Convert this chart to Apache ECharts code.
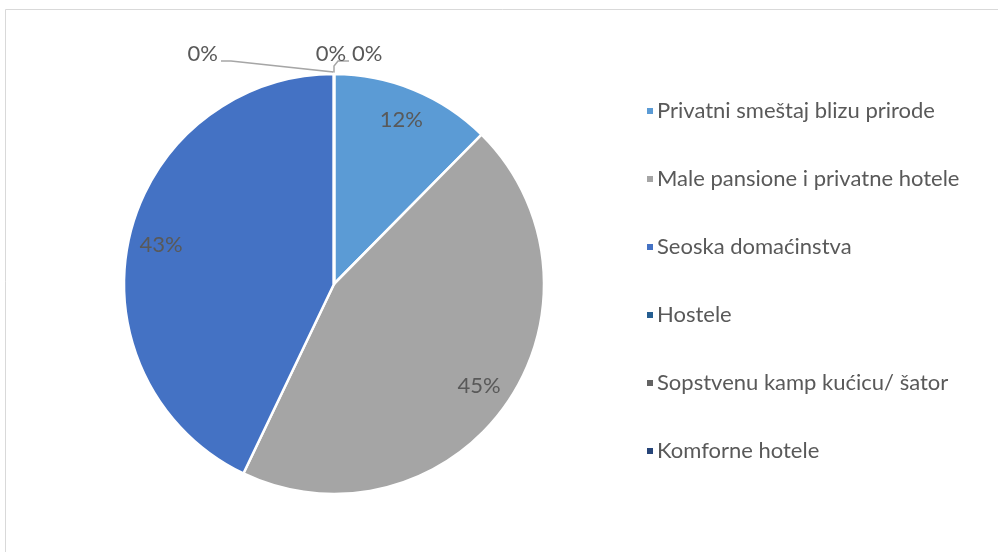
<!DOCTYPE html>
<html>
<head>
<meta charset="utf-8">
<script src="https://cdn.jsdelivr.net/npm/echarts@6/dist/echarts.min.js"></script>
<style>
  html, body { margin: 0; padding: 0; background: #fff; }
  #chart { width: 998px; height: 552px; }
</style>
</head>
<body>
<div id="chart"></div>
<script>
// Accommodation preferences (share of respondents, %)
const categories = [
  'Privatni smeštaj blizu prirode',
  'Male pansione i privatne hotele',
  'Seoska domaćinstva',
  'Hostele',
  'Sopstvenu kamp kućicu/ šator',
  'Komforne hotele'
];
const values = [12.4, 44.7, 42.9, 0, 0, 0];
const colors = ['#5B9BD5', '#A5A5A5', '#4472C4', '#255E91', '#636363', '#264478'];

const FONT = 'Lato, "Open Sans", sans-serif';
const TEXT = '#595959';
const cx = 334, cy = 284, R = 210;

const chart = echarts.init(document.getElementById('chart'), null, { renderer: 'canvas' });

// Zero-share labels are fanned out above the top of the pie (where their slices sit)
const topX = cx, topY = cy - R;
function zeroLabelLayout(p) {
  const k = p.dataIndex - values.length + 3;   // 0,1,2 for the three empty slices
  if (values[p.dataIndex] !== 0) return {};
  const ty = topY - 20;
  if (k === 0) {
    return { x: topX - 116, y: ty, align: 'right', verticalAlign: 'middle',
             labelLinePoints: [[topX - 1, topY], [topX - 1, topY - 2], [topX - 103, topY - 13], [topX - 113, topY - 13]] };
  }
  if (k === 1) {
    return { x: topX - 3, y: ty, align: 'center', verticalAlign: 'middle',
             labelLinePoints: [[topX, topY], [topX, topY - 2]] };
  }
  return { x: topX + 18, y: ty, align: 'left', verticalAlign: 'middle',
           labelLinePoints: [[topX, topY], [topX, topY - 8], [topX + 4, topY - 13], [topX + 15, topY - 13]] };
}

const pieData = categories.map((name, i) => ({
  name, value: values[i], itemStyle: { color: colors[i] },
  labelLine: { show: values[i] === 0 }
}));

chart.setOption({
  animation: false,
  backgroundColor: '#fff',
  graphic: [{
    type: 'rect',
    shape: { x: 5.5, y: 9.5, width: 1100, height: 600 },
    style: { fill: 'none', stroke: '#d9d9d9', lineWidth: 1 },
    silent: true
  }],
  legend: {
    orient: 'vertical',
    left: 640,
    top: 95,
    icon: 'rect',
    itemWidth: 8,
    itemHeight: 8,
    itemGap: 46,
    textStyle: { fontFamily: FONT, fontSize: 22, color: TEXT, padding: [0, 0, 0, -2] },
    data: categories
  },
  series: [
    {
      // the pie itself; zero shares get outside labels with leader lines
      type: 'pie',
      center: [cx, cy],
      radius: [0, R],
      startAngle: 90,
      clockwise: true,
      avoidLabelOverlap: false,
      stillShowZeroSum: true,
      itemStyle: { borderColor: '#fff', borderWidth: 2.5 },
      label: {
        show: true,
        position: 'outside',
        fontFamily: FONT, fontSize: 22, color: TEXT,
        formatter: p => p.value === 0 ? Math.round(p.percent) + '%' : ''
      },
      labelLine: { lineStyle: { color: '#a6a6a6', width: 1.5 } },
      labelLayout: zeroLabelLayout,
      emphasis: { disabled: true },
      data: pieData
    },
    {
      // transparent twin used only to place the percentage labels at ~0.83 R
      type: 'pie',
      center: [cx, cy],
      radius: [0, R * 1.66],
      startAngle: 90,
      clockwise: true,
      silent: true,
      itemStyle: { color: 'rgba(0,0,0,0)' },
      label: {
        show: true,
        position: 'inside',
        fontFamily: FONT, fontSize: 22, color: TEXT,
        formatter: p => p.value === 0 ? '' : Math.round(p.percent) + '%'
      },
      labelLine: { show: false },
      emphasis: { disabled: true },
      legendHoverLink: false,
      data: categories.map((name, i) => ({ name: name + ' ', value: values[i] }))
    }
  ]
});
</script>
</body>
</html>
